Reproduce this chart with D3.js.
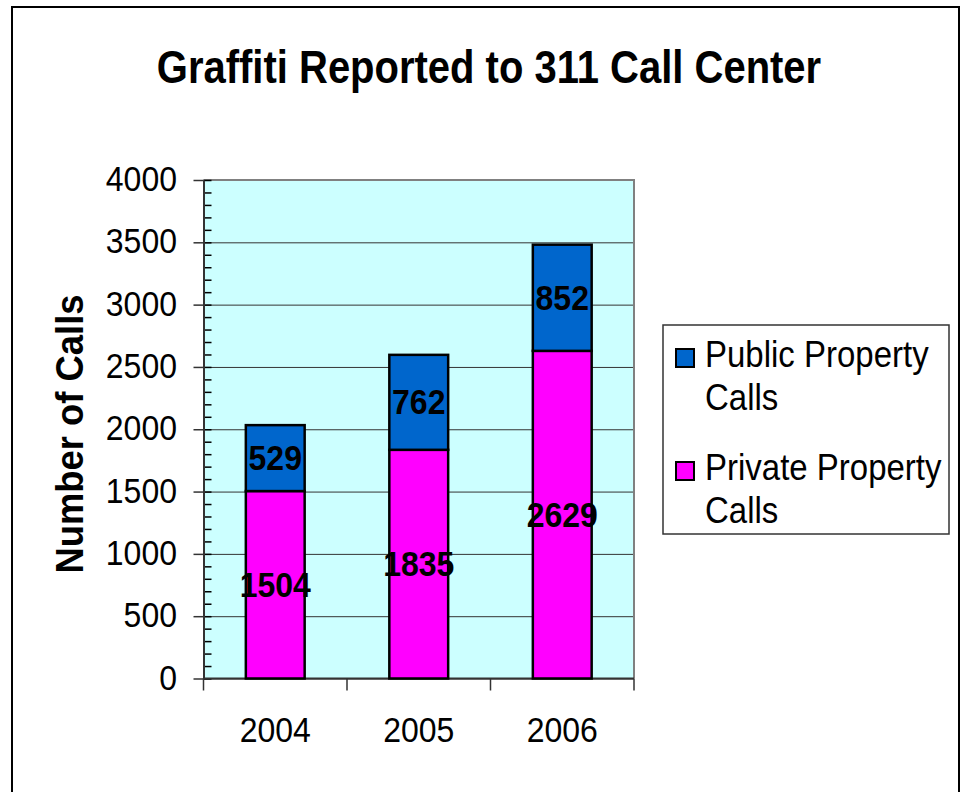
<!DOCTYPE html>
<html>
<head>
<meta charset="utf-8">
<script src="https://cdn.jsdelivr.net/npm/d3@7"></script>
<style>
  body { margin: 0; background: #fff; }
  svg text { font-family: "Liberation Sans", Arial, sans-serif; fill: #000; }
</style>
</head>
<body>
<script>
// data
var years = ['2004', '2005', '2006'];
var privateCalls = [1504, 1835, 2629];
var publicCalls = [529, 762, 852];
var seriesNames = ['Public Property Calls', 'Private Property Calls'];
var yTicks = [0, 500, 1000, 1500, 2000, 2500, 3000, 3500, 4000];

var width = 961, height = 792;
var plot = { left: 203.5, right: 634, top: 180, bottom: 678.5 };
var colors = { pub: '#0066CC', priv: '#FF00FF', bg: '#CCFFFF' };
var stretch = 1.1; // the picture text is a bit taller than wide

var svg = d3.select('body').append('svg')
  .attr('width', width).attr('height', height);

// helper: text placed with a small vertical stretch
function label(g, x, y, str, size, weight, anchor, sy) {
  return g.append('text')
    .attr('transform', 'translate(' + x + ',' + y + ') scale(1,' + (sy || stretch) + ')')
    .attr('font-size', size)
    .attr('font-weight', weight || 'normal')
    .attr('text-anchor', anchor || 'middle')
    .text(str);
}

// outer frame
svg.append('rect')
  .attr('x', 12).attr('y', 7).attr('width', 947).attr('height', 800)
  .attr('fill', 'none').attr('stroke', '#000').attr('stroke-width', 2);

// title
label(svg, 489, 83, 'Graffiti Reported to 311 Call Center', 40, 'bold', 'middle', 1.17);

var y = d3.scaleLinear().domain([0, 4000]).range([plot.bottom, plot.top]);
var x = d3.scaleBand().domain(years).range([plot.left, plot.right])
  .paddingInner(0.59).paddingOuter(0.295);

// plot background
svg.append('rect')
  .attr('x', plot.left).attr('y', plot.top)
  .attr('width', plot.right - plot.left).attr('height', plot.bottom - plot.top)
  .attr('fill', colors.bg);

// horizontal grid
var grid = svg.append('g')
  .attr('transform', 'translate(' + plot.left + ',0)')
  .call(d3.axisLeft(y).tickValues(yTicks).tickSize(-(plot.right - plot.left)).tickFormat(''));
grid.select('.domain').remove();
grid.selectAll('line').attr('stroke', '#333').attr('stroke-width', 1);

// top and right edges of plot
svg.append('path')
  .attr('d', 'M' + plot.left + ',' + plot.top + 'H' + plot.right + 'V' + plot.bottom)
  .attr('fill', 'none').attr('stroke', '#808080').attr('stroke-width', 2);

// minor ticks inside
var minor = svg.append('g')
  .attr('transform', 'translate(' + plot.left + ',0)')
  .call(d3.axisRight(y).tickValues(d3.range(0, 4001, 100)).tickSize(8).tickFormat(''));
minor.select('.domain').remove();
minor.selectAll('line').attr('stroke', '#000').attr('stroke-width', 1.5);

// y axis
var yAxis = svg.append('g')
  .attr('transform', 'translate(' + plot.left + ',0)')
  .call(d3.axisLeft(y).tickValues(yTicks).tickSize(10).tickSizeOuter(0).tickFormat(''));
yAxis.select('.domain').attr('stroke', '#333').attr('stroke-width', 2);
yAxis.selectAll('line').attr('stroke', '#333').attr('stroke-width', 1.5);

yTicks.forEach(function(v) {
  label(svg, 177, y(v) + 11, String(v), 32, 'normal', 'end');
});

// y axis title
svg.append('text')
  .attr('transform', 'translate(83,434) rotate(-90) scale(1.04,1.1)')
  .attr('font-size', 35).attr('font-weight', 'bold').attr('text-anchor', 'middle')
  .text('Number of Calls');

// x axis
svg.append('line')
  .attr('x1', plot.left).attr('x2', plot.right)
  .attr('y1', plot.bottom).attr('y2', plot.bottom)
  .attr('stroke', '#333').attr('stroke-width', 2);
var step = x.step();
var bounds = [plot.left].concat(years.map(function(d) { return x(d) + x.bandwidth() / 2 + step / 2; }));
svg.selectAll('.xtick').data(bounds).enter().append('line')
  .attr('x1', function(d) { return d; }).attr('x2', function(d) { return d; })
  .attr('y1', plot.bottom).attr('y2', plot.bottom + 12)
  .attr('stroke', '#333').attr('stroke-width', 1.5);

years.forEach(function(d) {
  label(svg, x(d) + x.bandwidth() / 2, 742, d, 32);
});

// stacked bars
var rows = years.map(function(d, i) {
  return { year: d, priv: privateCalls[i], pub: publicCalls[i] };
});
var stack = d3.stack().keys(['priv', 'pub'])(rows);
var bars = svg.append('g');
stack.forEach(function(layer) {
  bars.selectAll('.b-' + layer.key).data(layer).enter().append('rect')
    .attr('x', function(d) { return x(d.data.year); })
    .attr('width', x.bandwidth())
    .attr('y', function(d) { return y(d[1]); })
    .attr('height', function(d) { return y(d[0]) - y(d[1]); })
    .attr('fill', colors[layer.key])
    .attr('stroke', '#000').attr('stroke-width', 2.5);
});
stack.forEach(function(layer) {
  layer.forEach(function(d) {
    var v = d[1] - d[0];
    label(svg, x(d.data.year) + x.bandwidth() / 2, y((d[0] + d[1]) / 2) + 12, String(v), 32, 'bold');
  });
});

// legend
var lg = svg.append('g');
lg.append('rect')
  .attr('x', 663).attr('y', 325).attr('width', 286).attr('height', 209)
  .attr('fill', '#fff').attr('stroke', '#333').attr('stroke-width', 1.5);
var legendItems = [
  { name: seriesNames[0], color: colors.pub, top: 349 },
  { name: seriesNames[1], color: colors.priv, top: 462 }
];
legendItems.forEach(function(it) {
  lg.append('rect')
    .attr('x', 676).attr('y', it.top).attr('width', 18).attr('height', 18)
    .attr('fill', it.color).attr('stroke', '#000').attr('stroke-width', 2);
  var words = it.name.split(' ');
  label(lg, 705, it.top + 18, words.slice(0, 2).join(' '), 33, 'normal', 'start', 1.12);
  label(lg, 705, it.top + 61, words.slice(2).join(' '), 33, 'normal', 'start', 1.12);
});
</script>
</body>
</html>
